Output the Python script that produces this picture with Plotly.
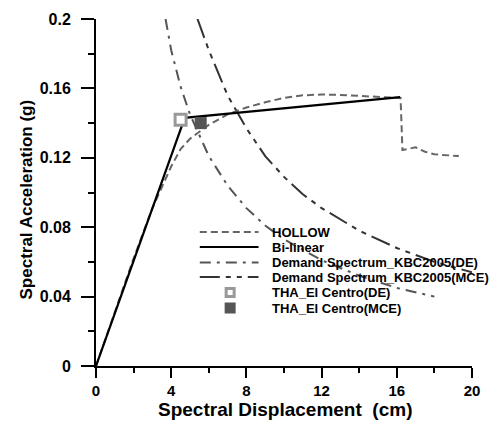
import plotly.graph_objects as go

# ---- data ----
hollow_x = [0, 1, 2, 3, 4, 4.5, 5, 5.5, 6, 7, 8, 9, 10, 11, 12, 13, 14, 15, 16.2, 16.3, 17.0, 17.5, 18.0, 19.3]
hollow_y = [0, 0.031, 0.062, 0.091, 0.115, 0.125, 0.131, 0.135, 0.139, 0.145, 0.149, 0.152, 0.1545, 0.156, 0.1565, 0.1562, 0.1557, 0.1552, 0.1545, 0.1245, 0.126, 0.1235, 0.122, 0.121]

bilinear_x = [0, 4.72, 16.18]
bilinear_y = [0, 0.143, 0.155]

de_x = [3.7, 4.0, 4.5, 5.0, 6.0, 7.0, 8.0, 9.0, 10.0, 12.0, 14.0, 16.0, 18.0]
de_y = [0.2, 0.182, 0.161, 0.145, 0.121, 0.104, 0.091, 0.081, 0.073, 0.061, 0.052, 0.045, 0.04]

mce_x = [5.4, 6.0, 7.0, 8.0, 9.0, 10.0, 11.0, 12.0, 14.0, 16.0, 18.0, 20.0]
mce_y = [0.2, 0.182, 0.156, 0.137, 0.121, 0.109, 0.099, 0.091, 0.078, 0.068, 0.06, 0.054]

tha_de = (4.5, 0.142)
tha_mce = (5.57, 0.140)

x_ticks = [0, 4, 8, 12, 16, 20]
y_ticks = [0, 0.04, 0.08, 0.12, 0.16, 0.2]
y_ticktext = ["0", "0.04", "0.08", "0.12", "0.16", "0.2"]

legend_names = ["HOLLOW", "Bi-linear", "Demand Spectrum_KBC2005(DE)",
                "Demand Spectrum_KBC2005(MCE)", "THA_El Centro(DE)", "THA_El Centro(MCE)"]

# ---- styles ----
FONT = "Liberation Sans, Arial, sans-serif"
c_hollow = "#666666"
c_bi = "#000000"
c_de = "#555555"
c_mce = "#333333"
dash_hollow = "7px,4px"
dash_de = "11px,6px,3px,6px"
dash_mce = "20px,6px,5px,6px,5px,6px"

fig = go.Figure()
fig.add_trace(go.Scatter(x=de_x, y=de_y, mode="lines", line=dict(color=c_de, width=2, dash=dash_de)))
fig.add_trace(go.Scatter(x=mce_x, y=mce_y, mode="lines", line=dict(color=c_mce, width=2, dash=dash_mce)))
fig.add_trace(go.Scatter(x=hollow_x, y=hollow_y, mode="lines", line=dict(color=c_hollow, width=2, dash=dash_hollow)))
fig.add_trace(go.Scatter(x=bilinear_x, y=bilinear_y, mode="lines", line=dict(color=c_bi, width=2.2)))
fig.add_trace(go.Scatter(x=[tha_de[0]], y=[tha_de[1]], mode="markers",
                         marker=dict(symbol="square", size=11, color="white", line=dict(color="#999999", width=3))))
fig.add_trace(go.Scatter(x=[tha_mce[0]], y=[tha_mce[1]], mode="markers",
                         marker=dict(symbol="square", size=12, color="#555555", line=dict(width=0))))

# ---- manual legend (paper coords) ----
L, T, W, H = 96, 19, 384, 347
def px(xp): return (xp - L) / W
def py(yp): return (T + H - yp) / H

rows = [232, 247, 262.5, 277, 292.5, 308]
line_styles = [(c_hollow, dash_hollow), (c_bi, "solid"), (c_de, dash_de), (c_mce, dash_mce)]
shapes = []
annotations = []
for i, name in enumerate(legend_names):
    yy = py(rows[i])
    if i < 4:
        col, dsh = line_styles[i]
        shapes.append(dict(type="line", xref="paper", yref="paper", x0=px(202), x1=px(262), y0=yy, y1=yy,
                           line=dict(color=col, width=2, dash=dsh)))
    elif i == 4:
        shapes.append(dict(type="rect", xref="paper", yref="paper", xsizemode="pixel", ysizemode="pixel",
                           xanchor=px(233), yanchor=yy, x0=-4, x1=4, y0=-4, y1=4,
                           fillcolor="white", line=dict(color="#999999", width=3)))
    else:
        shapes.append(dict(type="rect", xref="paper", yref="paper", xsizemode="pixel", ysizemode="pixel",
                           xanchor=px(233), yanchor=yy, x0=-5.5, x1=5.5, y0=-5.5, y1=5.5,
                           fillcolor="#555555", line=dict(width=0)))
    annotations.append(dict(text=name, xref="paper", yref="paper", x=px(274), y=yy, xanchor="left",
                            yanchor="middle", showarrow=False,
                            font=dict(family=FONT, size=13, color="black", weight="bold")))

annotations.append(dict(text="Spectral Displacement  (cm)", xref="paper", yref="paper",
                        x=px(289), y=py(409), xanchor="center", yanchor="middle", showarrow=False,
                        font=dict(family=FONT, size=19, color="black", weight="bold")))
annotations.append(dict(text="Spectral Acceleration (g)", xref="paper", yref="paper",
                        x=px(24), y=py(200), xanchor="center", yanchor="middle", showarrow=False, textangle=-90,
                        font=dict(family=FONT, size=17, color="black", weight="bold")))

fig.update_layout(
    width=490, height=421,
    margin=dict(l=L, r=490 - L - W, t=T, b=421 - T - H),
    paper_bgcolor="white", plot_bgcolor="white",
    showlegend=False,
    shapes=shapes, annotations=annotations,
)
fig.update_xaxes(range=[0, 20], tickvals=x_ticks, ticktext=[str(v) for v in x_ticks],
                 showgrid=False, zeroline=False, showline=True, linecolor="black", linewidth=2,
                 ticks="outside", ticklen=10, tickwidth=2, tickcolor="black", ticklabelstandoff=0,
                 minor=dict(ticks="outside", ticklen=5, tickwidth=2, tickcolor="black", dtick=2, showgrid=False),
                 tickfont=dict(family=FONT, size=15, color="black", weight="bold"))
fig.update_yaxes(range=[0, 0.2], tickvals=y_ticks, ticktext=y_ticktext,
                 showgrid=False, zeroline=False, showline=True, linecolor="black", linewidth=2,
                 ticks="outside", ticklen=13, tickwidth=2, tickcolor="black", ticklabelstandoff=7,
                 minor=dict(ticks="outside", ticklen=6, tickwidth=2, tickcolor="black", dtick=0.02, showgrid=False),
                 tickfont=dict(family=FONT, size=16, color="black", weight="bold"))

fig.write_html("out.html")
